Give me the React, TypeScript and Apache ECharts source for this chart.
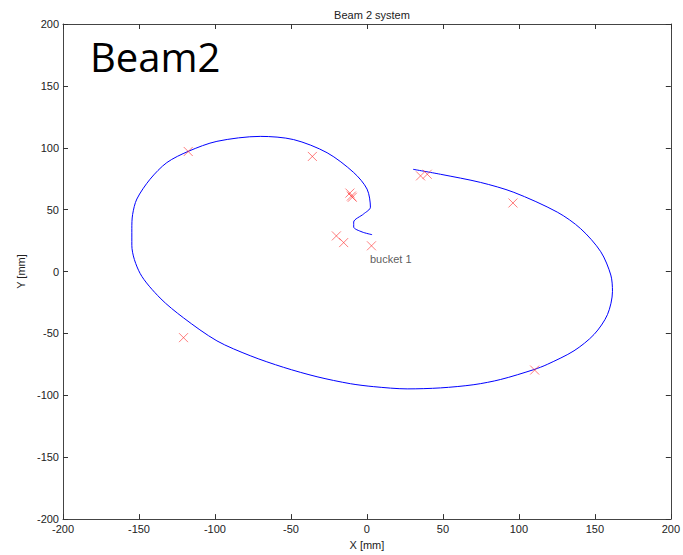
import React, { useEffect, useRef } from "react";
import * as echarts from "echarts";

const curveX = [3.4, -3.2, -8.7, -8.7, -2.1, 2.3, 0.1, -8.7, -26.2, -48.2, -70.2, -98.7, -117.4, -131.7, -142.7, -151.4, -154.2, -154.7, -154.7, -149.3, -136.1, -120.7, -98.7, -76.8, -54.8, -32.8, -10.9, 4.5, 26.5, 48.4, 70.4, 88, 109.9, 118.7, 136.3, 149.5, 158.3, 161.6, 160.5, 153.9, 140.7, 125.3, 96.7, 74.8, 48.4, 30.4];
const curveY = [29.8, 32, 36, 40, 46.6, 52, 66.6, 80, 96, 106.6, 109.2, 105.2, 97.2, 88, 74.6, 58.6, 46, 34.6, 21.2, -1.4, -21.4, -37.4, -56, -68, -77.4, -85, -90.6, -93, -94.8, -94, -91.4, -87.2, -79.2, -75, -64, -50.8, -34.8, -16, -2.8, 16, 34.6, 48, 64, 72, 78.6, 82.6];

const markX = [-117.6, -35.9, -11.2, -10.2, -9.6, -20.1, -15.3, 3, 35.3, 39.7, 96.1, 110.4, -120.7];
const markY = [97, 93, 63.4, 61, 60, 28.8, 23.4, 20.8, 77.3, 78.6, 55.4, -79.6, -53.4];

const xTicks = [-200, -150, -100, -50, 0, 50, 100, 150, 200];
const yTicks = [-200, -150, -100, -50, 0, 50, 100, 150, 200];

const labelText = "bucket 1";
const labelPos = [2, 10];

const FONT = "'Liberation Sans Narrow', 'Liberation Sans', Arial, sans-serif";

export default function App() {
  const ref = useRef<HTMLDivElement>(null);
  useEffect(() => {
    if (!ref.current) return;
    const chart = echarts.init(ref.current, null, { renderer: "svg" });
    const axisCommon = {
      type: "value",
      min: xTicks[0],
      max: xTicks[xTicks.length - 1],
      interval: 50,
      splitLine: { show: false },
      axisLine: { show: true, onZero: false, lineStyle: { color: "#444", width: 1 } },
      axisTick: { show: true, inside: true, length: 5, lineStyle: { color: "#333" } },
    };
    chart.setOption({
      animation: false,
      backgroundColor: "#fff",
      title: {
        text: "Beam 2 system",
        left: 367,
        top: 4,
        textAlign: "center",
        textStyle: { fontFamily: FONT, fontSize: 11, fontWeight: "normal", color: "#222" },
      },
      grid: { left: 63, right: 12, top: 24, bottom: 32 },
      xAxis: [
        {
          ...axisCommon,
          position: "bottom",
          name: "X [mm]",
          nameLocation: "middle",
          nameGap: 17,
          nameTextStyle: { fontFamily: FONT, fontSize: 11, color: "#222" },
          axisLabel: { fontFamily: FONT, fontSize: 11, color: "#222", margin: 4 },
        },
        {
          ...axisCommon,
          position: "top",
          axisLabel: { show: false },
        },
      ],
      yAxis: [
        {
          ...axisCommon,
          min: yTicks[0],
          max: yTicks[yTicks.length - 1],
          position: "left",
          name: "Y [mm]",
          nameLocation: "middle",
          nameGap: 34,
          nameTextStyle: { fontFamily: FONT, fontSize: 11, color: "#222" },
          axisLabel: { fontFamily: FONT, fontSize: 11, color: "#222", margin: 4 },
        },
        {
          ...axisCommon,
          min: yTicks[0],
          max: yTicks[yTicks.length - 1],
          position: "right",
          axisLabel: { show: false },
        },
      ],
      graphic: [
        {
          type: "text",
          left: 90,
          top: 36,
          style: {
            text: "Beam2",
            font: "40px 'Open Sans', 'Noto Sans', sans-serif",
            fill: "#000",
          },
        },
      ],
      series: [
        {
          type: "line",
          data: curveX.map((x, i) => [x, curveY[i]]),
          showSymbol: false,
          smooth: 0.3,
          lineStyle: { color: "#0000ff", width: 1 },
          z: 2,
        },
        {
          type: "scatter",
          data: markX.map((x, i) => [x, markY[i]]),
          symbol: "path://M0,0L10,10M10,0L0,10",
          symbolSize: 9,
          itemStyle: { color: "none", borderColor: "rgba(255,40,40,0.75)", borderWidth: 1 },
          z: 3,
        },
        {
          type: "scatter",
          data: [labelPos],
          symbolSize: 0,
          itemStyle: { color: "#303030" },
          label: {
            show: true,
            position: "inside",
            formatter: labelText,
            align: "left",
            verticalAlign: "middle",
            fontFamily: FONT,
            fontSize: 11,
            color: "#303030",
          },
          z: 4,
        },
      ],
    });
    return () => chart.dispose();
  }, []);
  return <div ref={ref} style={{ width: 683, height: 555, position: "absolute", left: 0, top: 0 }} />;
}
